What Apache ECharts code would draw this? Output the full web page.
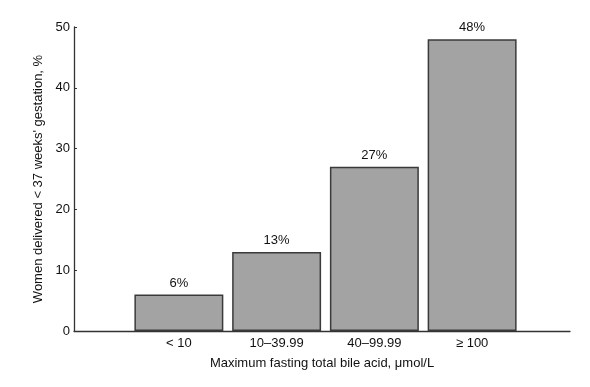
<!DOCTYPE html>
<html><head><meta charset="utf-8">
<script src="https://cdn.jsdelivr.net/npm/echarts@6/dist/echarts.min.js"></script>
<style>html,body{margin:0;padding:0;background:#fff}#c{width:590px;height:387px}</style>
</head><body><div id="c"></div>
<script>
const categories = ['< 10', '10\u201339.99', '40\u201399.99', '\u2265 100'];
const values = [6, 13, 27, 48];
const yTicks = [0, 10, 20, 30, 40, 50];

const FONT = 'Liberation Sans, Arial, sans-serif';
const chart = echarts.init(document.getElementById('c'));
chart.setOption({
  animation: false,
  backgroundColor: '#fff',
  textStyle: { fontFamily: FONT },
  grid: [
    { left: 74, right: 20, top: 27, bottom: 56 },
    { left: 130, right: 69, top: 27, bottom: 56 }
  ],
  xAxis: [
    { gridIndex: 0, type: 'category', data: [''], axisLine: { lineStyle: { color: '#333', width: 1.3 } },
      axisTick: { show: false }, axisLabel: { show: false },
      name: 'Maximum fasting total bile acid, \u03bcmol/L', nameLocation: 'middle', nameGap: 26,
      nameTextStyle: { fontSize: 13, color: '#111', fontFamily: FONT } },
    { gridIndex: 1, type: 'category', data: categories, axisLine: { show: false },
      axisTick: { inside: true, alignWithLabel: true, length: 3, lineStyle: { color: '#333' } },
      axisLabel: { fontSize: 13, color: '#111', margin: 6, fontFamily: FONT } }
  ],
  yAxis: [
    { gridIndex: 0, type: 'value', min: yTicks[0], max: yTicks[yTicks.length - 1], interval: 10,
      axisLine: { show: true, lineStyle: { color: '#333', width: 1.3 } },
      axisTick: { show: true, inside: true, length: 3, lineStyle: { color: '#333' } },
      splitLine: { show: false },
      axisLabel: { fontSize: 13, color: '#111', margin: 4, fontFamily: FONT },
      name: "Women delivered < 37 weeks' gestation, %", nameLocation: 'middle', nameGap: 28,
      nameTextStyle: { fontSize: 13, color: '#111', fontFamily: FONT } },
    { gridIndex: 1, type: 'value', min: 0, max: 50, interval: 10, show: false }
  ],
  series: [{
    type: 'bar', xAxisIndex: 1, yAxisIndex: 1, data: values, barCategoryGap: '9%',
    itemStyle: { color: '#a3a3a3', borderColor: '#3a3a3a', borderWidth: 1.5 },
    label: { show: true, position: 'top', distance: 5, formatter: '{c}%', fontSize: 13, color: '#111', fontFamily: FONT }
  }]
});
</script></body></html>
